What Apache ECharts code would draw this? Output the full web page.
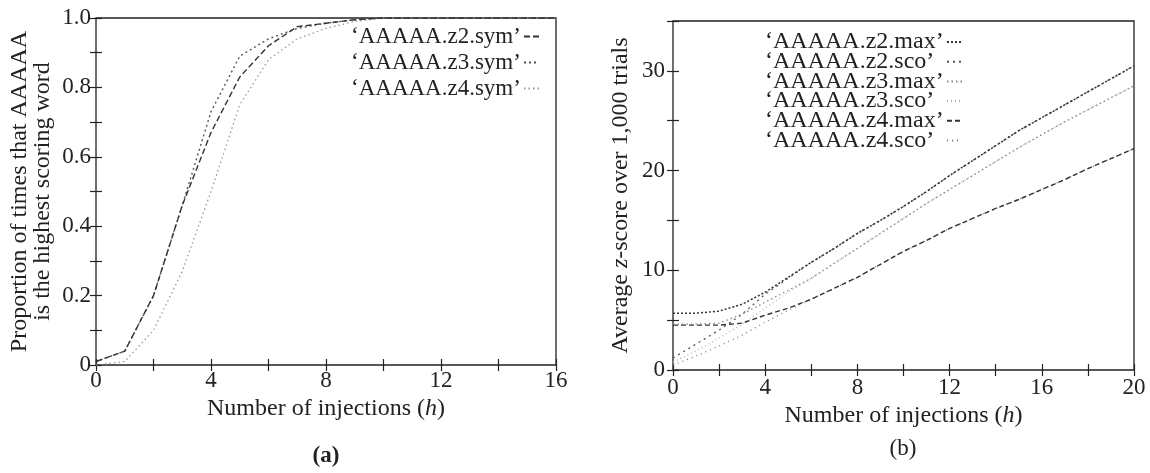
<!DOCTYPE html>
<html>
<head>
<meta charset="utf-8">
<script src="https://cdn.jsdelivr.net/npm/echarts@6/dist/echarts.min.js"></script>
<style>
  html, body { margin: 0; padding: 0; background: #fff; }
  #chart { width: 1150px; height: 473px; }
</style>
</head>
<body>
<div id="chart"></div>
<script>
// (a) proportion of times AAAAA is top word
const injectionsA = [0, 1, 2, 3, 4, 5, 6, 7, 8, 9, 10, 11, 12, 13, 14, 15, 16]
const z2sym = [0.01, 0.04, 0.20, 0.46, 0.67, 0.83, 0.92, 0.975, 0.985, 0.995, 1, 1, 1, 1, 1, 1, 1]
const z3sym = [0.01, 0.04, 0.20, 0.46, 0.73, 0.89, 0.94, 0.97, 0.985, 0.995, 1, 1, 1, 1, 1, 1, 1]
const z4sym = [0.00, 0.01, 0.10, 0.27, 0.50, 0.75, 0.88, 0.94, 0.97, 0.99, 1, 1, 1, 1, 1, 1, 1]

// (b) average z-score over 1,000 trials
const injectionsB = [0, 1, 2, 3, 4, 5, 6, 7, 8, 9, 10, 11, 12, 13, 14, 15, 16, 17, 18, 19, 20]
const z2max = [5.7, 5.7, 5.9, 6.6, 7.8, 9.3, 10.8, 12.2, 13.7, 15.0, 16.4, 17.9, 19.5, 21.0, 22.5, 24.0, 25.3, 26.6, 27.9, 29.2, 30.5]
const z2sco = [1.2, 2.6, 4.0, 5.6, 7.6, 9.2, 10.8, 12.2, 13.7, 15.0, 16.4, 17.9, 19.5, 21.0, 22.5, 24.0, 25.3, 26.6, 27.9, 29.2, 30.5]
const z3max = [4.6, 4.6, 4.7, 5.6, 6.8, 8.0, 9.2, 10.7, 12.2, 13.7, 15.2, 16.7, 18.1, 19.5, 20.9, 22.3, 23.6, 24.9, 26.1, 27.3, 28.5]
const z3sco = [0.8, 1.9, 3.2, 4.6, 6.2, 7.8, 9.2, 10.7, 12.2, 13.7, 15.2, 16.7, 18.1, 19.5, 20.9, 22.3, 23.6, 24.9, 26.1, 27.3, 28.5]
const z4max = [4.5, 4.5, 4.5, 4.7, 5.5, 6.2, 7.1, 8.2, 9.3, 10.6, 11.9, 13.0, 14.2, 15.2, 16.2, 17.1, 18.1, 19.1, 20.2, 21.2, 22.2]
const z4sco = [0.5, 1.4, 2.4, 3.5, 4.8, 6.0, 7.1, 8.2, 9.3, 10.6, 11.9, 13.0, 14.2, 15.2, 16.2, 17.1, 18.1, 19.1, 20.2, 21.2, 22.2]

const FONT = 'Liberation Serif'
const INK = '#222'

const pairs = (xs, ys) => xs.map((x, i) => [x, ys[i]])

// 坐标轴公共样式，刻度朝内
function axisBase(extra) {
  return Object.assign({
    type: 'value',
    axisLine: { show: false },
    axisTick: { show: true, inside: true, length: 6, lineStyle: { color: INK, width: 1.2 } },
    splitLine: { show: false },
    axisLabel: { color: INK, fontFamily: FONT, fontSize: 23 },
  }, extra)
}

function mirror(extra) {
  return axisBase(Object.assign({ axisLabel: { show: false } }, extra))
}

function line(name, xs, ys, color, dash, width, xi, yi) {
  return {
    name,
    type: 'line',
    data: pairs(xs, ys),
    xAxisIndex: xi,
    yAxisIndex: yi,
    symbol: 'none',
    lineStyle: { color, type: dash, width },
    itemStyle: { color },
    z: 3,
  }
}

// 图例：文字左对齐，线样在右侧
function keyBox(right, top, width, rowHeight, gap, fontSize, names) {
  return {
    orient: 'vertical', align: 'right', right, top, padding: 0,
    itemWidth: 15, itemHeight: 8, itemGap: gap,
    itemStyle: { opacity: 0 },
    formatter: name => `{t|${name}}`,
    textStyle: {
      color: INK, fontFamily: FONT, fontSize,
      rich: { t: { width, align: 'left', lineHeight: rowHeight, height: rowHeight, fontSize, fontFamily: FONT, color: INK } },
    },
    data: names,
  }
}

const italic = { fontStyle: 'italic', fontFamily: FONT, fontSize: 24, color: INK }

const chart = echarts.init(document.getElementById('chart'))

const option = {
  animation: false,
  backgroundColor: '#fff',
  textStyle: { fontFamily: FONT },
  grid: [
    { left: 96, right: 594, top: 18, bottom: 108, show: true, borderColor: INK, borderWidth: 1.3, backgroundColor: 'transparent' },
    { left: 673, right: 16, top: 21, bottom: 103, show: true, borderColor: INK, borderWidth: 1.3, backgroundColor: 'transparent' },
  ],
  xAxis: [
    axisBase({
      gridIndex: 0, min: 0, max: 16, interval: 2,
      axisLabel: { color: INK, fontFamily: FONT, fontSize: 23, margin: 4, formatter: v => (v % 4 === 0 ? String(v) : '') },
      name: 'Number of injections ({i|h})',
      nameLocation: 'middle', nameGap: 30,
      nameTextStyle: { color: INK, fontFamily: FONT, fontSize: 24, rich: { i: italic } },
    }),
    mirror({ gridIndex: 0, position: 'top', min: 0, max: 16, interval: 2 }),
    axisBase({
      gridIndex: 1, min: 0, max: 20, interval: 2,
      axisLabel: { color: INK, fontFamily: FONT, fontSize: 23, margin: 6, formatter: v => (v % 4 === 0 ? String(v) : '') },
      name: 'Number of injections ({i|h})',
      nameLocation: 'middle', nameGap: 30,
      nameTextStyle: { color: INK, fontFamily: FONT, fontSize: 24, rich: { i: italic } },
    }),
    mirror({ gridIndex: 1, position: 'top', min: 0, max: 20, interval: 2 }),
  ],
  yAxis: [
    axisBase({
      gridIndex: 0, min: 0, max: 1, interval: 0.1,
      axisLabel: {
        color: INK, fontFamily: FONT, fontSize: 23, margin: 5,
        formatter: v => {
          const k = Math.round(v * 10)
          if (k % 2 !== 0) return ''
          return k === 0 ? '0' : (k / 10).toFixed(1)
        },
      },
      name: 'Proportion of times that AAAAA\nis the highest scoring word',
      nameLocation: 'middle', nameGap: 42,
      nameTextStyle: { color: INK, fontFamily: FONT, fontSize: 24, lineHeight: 23 },
    }),
    mirror({ gridIndex: 0, position: 'right', min: 0, max: 1, interval: 0.1 }),
    axisBase({
      gridIndex: 1, min: 0, max: 35, interval: 5,
      axisLabel: { color: INK, fontFamily: FONT, fontSize: 23, margin: 8, formatter: v => (v % 10 === 0 ? String(v) : '') },
      name: 'Average {i|z}-score over 1,000 trials',
      nameLocation: 'middle', nameGap: 40,
      nameTextStyle: { color: INK, fontFamily: FONT, fontSize: 24, rich: { i: italic } },
    }),
    mirror({ gridIndex: 1, position: 'right', min: 0, max: 35, interval: 5 }),
  ],
  legend: [
    keyBox(610, 23.5, 168, 26, 0, 23, ['‘AAAAA.z2.sym’', '‘AAAAA.z3.sym’', '‘AAAAA.z4.sym’']),
    keyBox(187, 30, 177, 19.3, -4.3, 24, ['‘AAAAA.z2.max’', '‘AAAAA.z2.sco’', '‘AAAAA.z3.max’', '‘AAAAA.z3.sco’', '‘AAAAA.z4.max’', '‘AAAAA.z4.sco’']),
  ],
  graphic: [
    { type: 'text', x: 326, y: 456, style: { text: '(a)', fontFamily: FONT, fontSize: 23, fontWeight: 'bold', fill: INK, align: 'center', verticalAlign: 'middle' } },
    { type: 'text', x: 903, y: 449, style: { text: '(b)', fontFamily: FONT, fontSize: 23, fill: INK, align: 'center', verticalAlign: 'middle' } },
  ],
  series: [
    line('‘AAAAA.z4.sym’', injectionsA, z4sym, '#9a9a9a', [1.5, 3], 1.3, 0, 0),
    line('‘AAAAA.z3.sym’', injectionsA, z3sym, '#555', [2, 3], 1.4, 0, 0),
    line('‘AAAAA.z2.sym’', injectionsA, z2sym, '#333', [6, 3], 1.4, 0, 0),

    line('‘AAAAA.z4.sco’', injectionsB, z4sco, '#777', [1, 4], 1.3, 2, 2),
    line('‘AAAAA.z3.sco’', injectionsB, z3sco, '#b0b0b0', [1, 3], 1.2, 2, 2),
    line('‘AAAAA.z2.sco’', injectionsB, z2sco, '#555', [2, 4], 1.3, 2, 2),
    line('‘AAAAA.z4.max’', injectionsB, z4max, '#333', [5, 3], 1.4, 2, 2),
    line('‘AAAAA.z3.max’', injectionsB, z3max, '#8a8a8a', [1.5, 3], 1.3, 2, 2),
    line('‘AAAAA.z2.max’', injectionsB, z2max, '#333', [2, 2], 1.5, 2, 2),
  ],
}

chart.setOption(option)
</script>
</body>
</html>
